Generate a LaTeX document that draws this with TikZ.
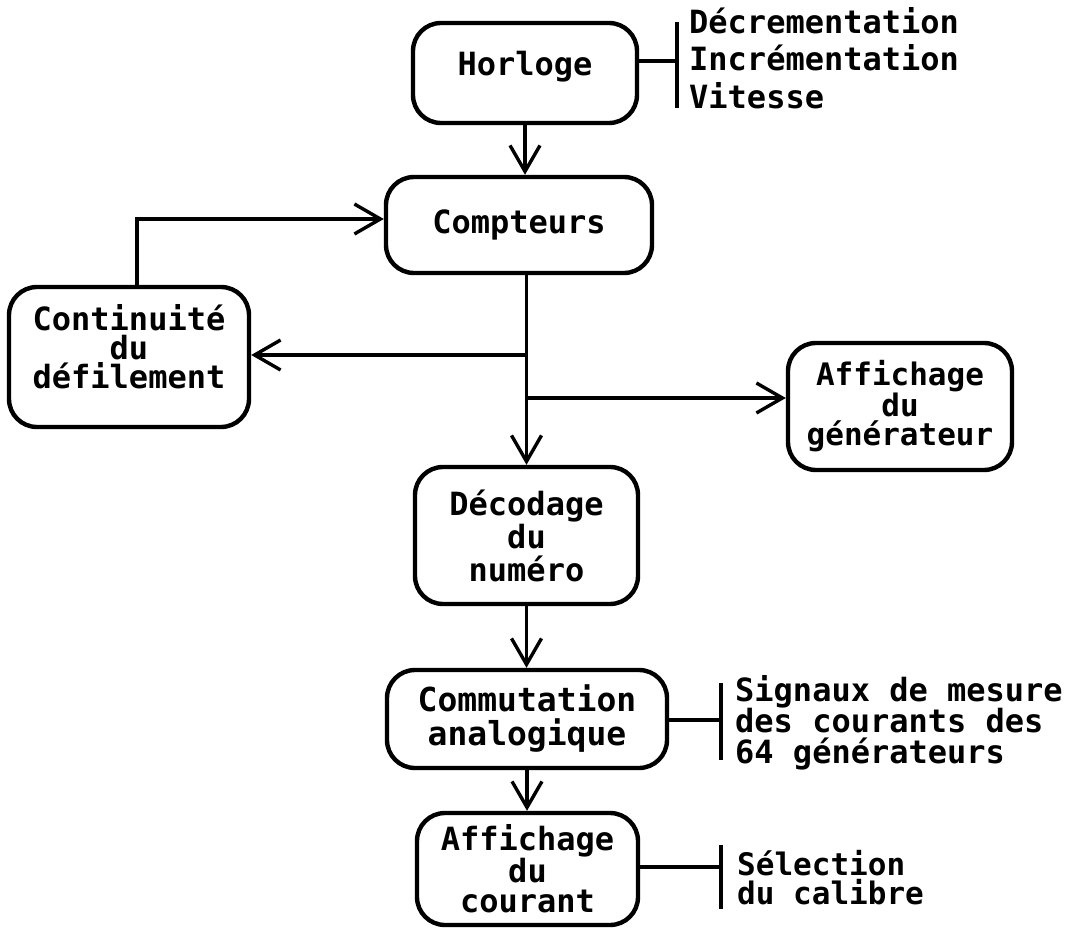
\documentclass[tikz,border=0pt]{standalone}
\usepackage{fontspec}
\setmainfont{DejaVu Sans Mono}
\usetikzlibrary{arrows.meta}
\begin{document}
\begin{tikzpicture}[x=1pt,y=-1pt,
  box/.style={draw, line width=4.4pt, rounded corners=28pt, align=center, inner sep=0pt,
    font={\bfseries\fontsize{32}{33}\selectfont}},
  conn/.style={line width=3.4pt},
  arr/.style={conn, -{Straight Barb[length=26pt,width=30pt]}},
  bar/.style={line width=4.6pt},
  side/.style={align=left, inner sep=0pt, anchor=west,
    font={\bfseries\fontsize{32}{37.5}\selectfont}}]
\useasboundingbox (0,0) rectangle (1072,939);

% boxes
\node[box, minimum width=224pt, minimum height=100pt, text depth=20pt] (hor) at (525,73) {Horloge};
\node[box, minimum width=266pt, minimum height=96pt] (cpt) at (519,225) {Compteurs};
\node[box, minimum width=240pt, minimum height=140pt, text depth=22pt,
  font={\bfseries\fontsize{32}{29}\selectfont}] (con) at (129,357) {Continuité\\du\\défilement};
\node[box, minimum width=224pt, minimum height=127pt,
  font={\bfseries\fontsize{31}{29}\selectfont}] (gen) at (900,406.5) {Affichage\\du\\générateur};
\node[box, minimum width=223pt, minimum height=137pt,
  font={\bfseries\fontsize{32}{33}\selectfont}] (dec) at (526.5,535.5) {Décodage\\du\\numéro};
\node[box, minimum width=280pt, minimum height=98pt,
  font={\bfseries\fontsize{33}{34}\selectfont}] (com) at (527,719) {Commutation\\analogique};
\node[box, minimum width=221pt, minimum height=112pt,
  font={\bfseries\fontsize{32}{30}\selectfont}] (afc) at (527.5,869) {Affichage\\du\\courant};

% side texts
\node[side] (t1) at (689,58) {Décrementation\\Incrémentation\\Vitesse};
\node[side, font={\bfseries\fontsize{32}{31}\selectfont}] (t2) at (735,723) {Signaux de mesure\\des courants des\\64 générateurs};
\node[side, font={\bfseries\fontsize{31}{28.5}\selectfont}] (t3) at (737,877.5) {Sélection\\du calibre};

% bars and their connectors
\coordinate (b1t) at (677,22); \coordinate (b1b) at (677,108); \coordinate (b1) at (677,61);
\coordinate (b2t) at (721,683); \coordinate (b2b) at (721,760); \coordinate (b2) at (721,720);
\coordinate (b3t) at (721,845); \coordinate (b3b) at (721,909); \coordinate (b3) at (721,867);
\draw[bar] (b1t) -- (b1b);
\draw[bar] (b2t) -- (b2b);
\draw[bar] (b3t) -- (b3b);
\draw[conn] (b1 -| hor.east) -- (b1);
\draw[conn] (b2 -| com.east) -- (b2);
\draw[conn] (b3 -| afc.east) -- (b3);

% arrows
\coordinate (j1) at (526,355);
\coordinate (j2) at (526,398);
\draw[arr] (hor.south) -- (hor.south |- cpt.north);
\draw[arr] (dec.north |- cpt.south) -- (dec.north);
\draw[arr] (j1) -- (j1 -| con.east);
\draw[arr] (j2) -- (j2 -| gen.west);
\draw[arr] ([xshift=8pt]con.north) |- ([yshift=6pt]cpt.west);
\draw[arr] (dec.south) -- (dec.south |- com.north);
\draw[arr] (com.south) -- (com.south |- afc.north);
\end{tikzpicture}
\end{document}
